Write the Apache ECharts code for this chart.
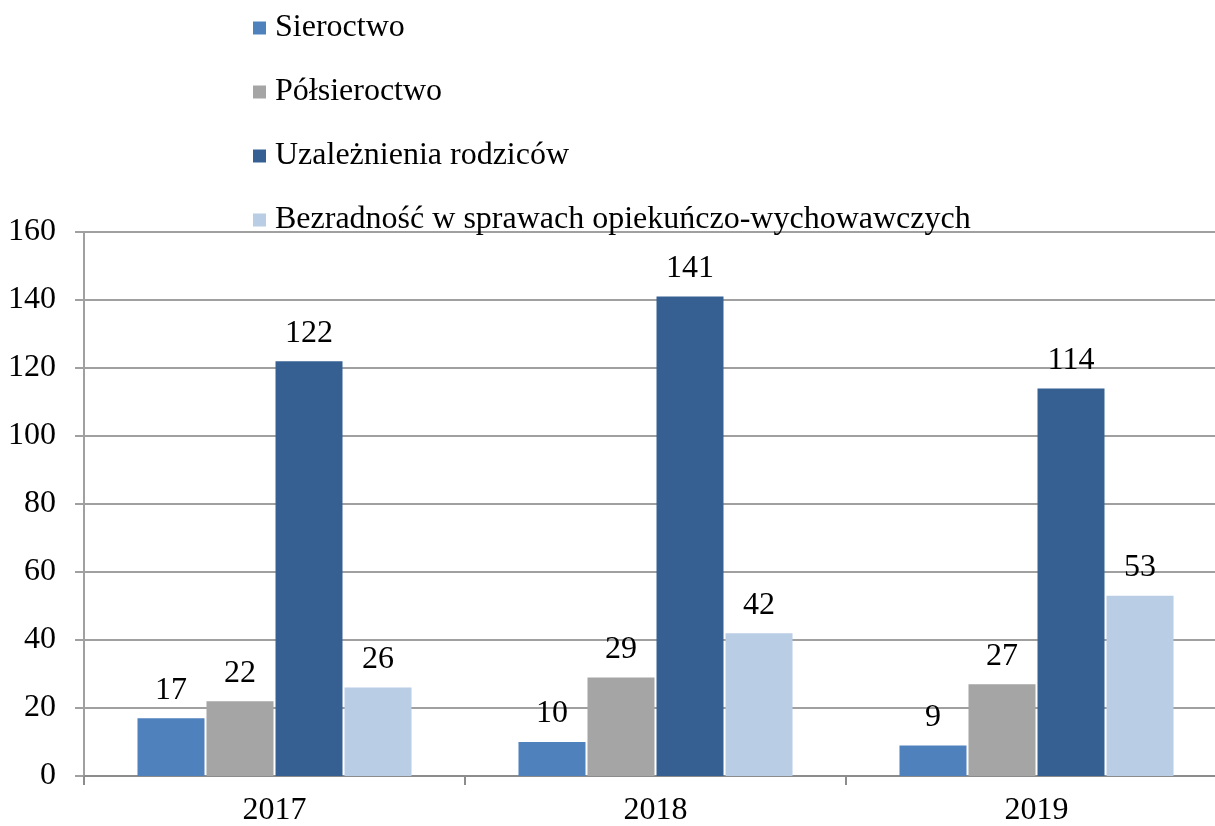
<!DOCTYPE html>
<html>
<head>
<meta charset="utf-8">
<script src="https://cdn.jsdelivr.net/npm/echarts@6/dist/echarts.min.js"></script>
<style>
  html, body { margin: 0; padding: 0; background: #fff; }
  #chart { width: 1215px; height: 826px; }
</style>
</head>
<body>
<div id="chart"></div>
<script>
// dane z wykresu
const years = ['2017', '2018', '2019'];
const seriesNames = ['Sieroctwo', 'Półsieroctwo', 'Uzależnienia rodziców', 'Bezradność w sprawach opiekuńczo-wychowawczych'];
const sieroctwo = [17, 10, 9];
const polsieroctwo = [22, 29, 27];
const uzaleznienia = [122, 141, 114];
const bezradnosc = [26, 42, 53];
const yTicks = [0, 20, 40, 60, 80, 100, 120, 140, 160];

const colors = ['#4f81bd', '#a5a5a5', '#376092', '#b9cde5'];
const font = '"Liberation Serif", "Times New Roman", serif';

const chartDom = document.getElementById('chart');
const myChart = echarts.init(chartDom);

const makeSeries = (name, data, idx) => ({
    name: name,
    type: 'bar',
    data: data,
    barWidth: 67,
    barGap: '3%',
    itemStyle: { color: colors[idx] },
    label: {
        show: true,
        position: 'top',
        distance: 12,
        color: '#000',
        fontFamily: font,
        fontSize: 32
    }
});

myChart.setOption({
    animation: false,
    textStyle: { fontFamily: font },
    legend: {
        orient: 'vertical',
        left: 248,
        top: 7,
        itemWidth: 13,
        itemHeight: 13,
        itemGap: 32,
        icon: 'rect',
        textStyle: { fontFamily: font, fontSize: 32, color: '#000', padding: [0, 0, 0, 4] },
        data: seriesNames
    },
    // wykres przycięty z prawej strony - ostatnia kategoria wychodzi poza kadr
    grid: { left: 84, width: 1143, top: 232, bottom: 50, containLabel: false, outerBoundsMode: 'none' },
    xAxis: {
        type: 'category',
        data: years,
        axisLine: { lineStyle: { color: '#8c8c8c', width: 2 } },
        axisTick: { show: true, length: 9, lineStyle: { color: '#8c8c8c', width: 2 } },
        axisLabel: { color: '#000', fontFamily: font, fontSize: 32, margin: 19 }
    },
    yAxis: {
        type: 'value',
        min: yTicks[0],
        max: yTicks[yTicks.length - 1],
        interval: yTicks[1] - yTicks[0],
        axisLine: { show: true, lineStyle: { color: '#a0a0a0', width: 2 } },
        axisTick: { show: true, length: 9, lineStyle: { color: '#a0a0a0', width: 2 } },
        axisLabel: { color: '#000', fontFamily: font, fontSize: 32, margin: 28 },
        splitLine: { lineStyle: { color: '#a0a0a0', width: 2 } }
    },
    series: [
        makeSeries(seriesNames[0], sieroctwo, 0),
        makeSeries(seriesNames[1], polsieroctwo, 1),
        makeSeries(seriesNames[2], uzaleznienia, 2),
        makeSeries(seriesNames[3], bezradnosc, 3)
    ]
});
</script>
</body>
</html>
